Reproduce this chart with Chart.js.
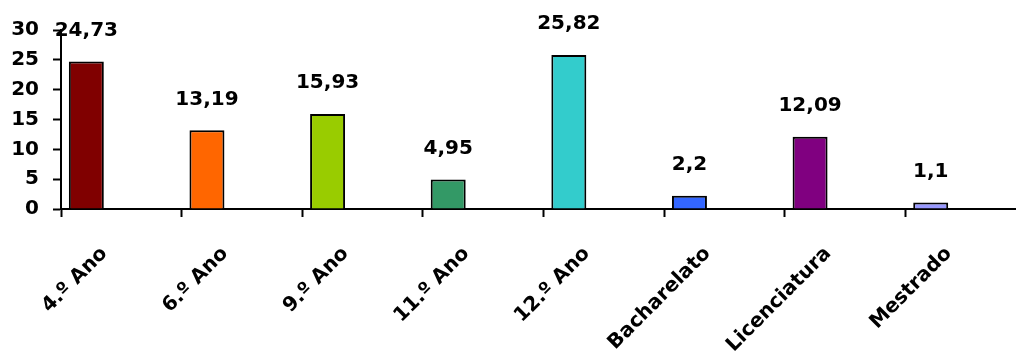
<!DOCTYPE html>
<html>
<head>
<meta charset="utf-8">
<script src="https://cdn.jsdelivr.net/npm/chart.js@4/dist/chart.umd.min.js"></script>
<style>
	html, body { margin: 0; padding: 0; background: #ffffff; overflow: hidden; }
	#wrap { position: relative; width: 1026px; height: 352px; }
</style>
</head>
<body>
<div id="wrap"><canvas id="escolaridadeChart"></canvas></div>
<script>
// dados
const categories = ['4.º Ano', '6.º Ano', '9.º Ano', '11.º Ano', '12.º Ano', 'Bacharelato', 'Licenciatura', 'Mestrado'];
const percentages = [24.73, 13.19, 15.93, 4.95, 25.82, 2.2, 12.09, 1.1];
const valueLabels = ['24,73', '13,19', '15,93', '4,95', '25,82', '2,2', '12,09', '1,1'];
const barColors = ['#800000', '#FF6600', '#99CC00', '#339966', '#33CCCC', '#3366FF', '#800080', '#9999FF'];
const yTicks = [0, 5, 10, 15, 20, 25, 30];

const font = { family: 'DejaVu Sans', size: 20, weight: 'bold' };

// escreve os valores por cima das barras
const valueLabelPlugin = {
	id: 'valueLabels',
	afterDatasetsDraw(chart) {
		const ctx = chart.ctx;
		const meta = chart.getDatasetMeta(0);
		ctx.save();
		ctx.font = 'bold 20px "DejaVu Sans"';
		ctx.fillStyle = '#000000';
		ctx.textAlign = 'center';
		ctx.textBaseline = 'middle';
		meta.data.forEach((bar, i) => {
			ctx.fillText(valueLabels[i], bar.x, bar.y - 31);
		});
		ctx.restore();
	}
};

const ctx = document.getElementById('escolaridadeChart').getContext('2d');

new Chart(ctx, {
	type: 'bar',
	data: {
		labels: categories,
		datasets: [
			{
				label: 'Percentagem',
				data: percentages,
				backgroundColor: barColors,
				borderColor: '#000000',
				borderWidth: 2,
				barPercentage: 1,
				categoryPercentage: 0.87
			},
			// séries vazias (o gráfico original tinha mais séries por categoria)
			{ label: 'vazio1', data: [], barPercentage: 1, categoryPercentage: 0.87 },
			{ label: 'vazio2', data: [], barPercentage: 1, categoryPercentage: 0.87 }
		]
	},
	options: {
		responsive: true,
		maintainAspectRatio: false,
		animation: false,
		layout: {
			padding: { top: 30, right: 0, bottom: 0, left: 0 }
		},
		scales: {
			x: {
				grid: {
					display: true,
					offset: true,
					drawOnChartArea: false,
					drawTicks: true,
					tickLength: 8,
					tickWidth: 2,
					tickColor: '#000000'
				},
				border: { display: true, color: '#000000', width: 2 },
				ticks: {
					color: '#000000',
					font: font,
					minRotation: 45,
					maxRotation: 45,
					autoSkip: false,
					padding: 25,
					labelOffset: -17
				},
				afterFit(scale) {
					scale.height = 143;
				}
			},
			y: {
				min: 0,
				max: 30,
				grid: {
					display: true,
					drawOnChartArea: false,
					drawTicks: true,
					tickLength: 8,
					tickWidth: 2,
					tickColor: '#000000'
				},
				border: { display: true, color: '#000000', width: 2 },
				ticks: {
					stepSize: 5,
					color: '#000000',
					font: font,
					padding: 14
				},
				afterBuildTicks(scale) {
					scale.ticks = yTicks.map(v => ({ value: v }));
				},
				afterFit(scale) {
					scale.width = 61;
				}
			}
		},
		plugins: {
			legend: { display: false },
			tooltip: { enabled: false }
		}
	},
	plugins: [valueLabelPlugin]
});
</script>
</body>
</html>
